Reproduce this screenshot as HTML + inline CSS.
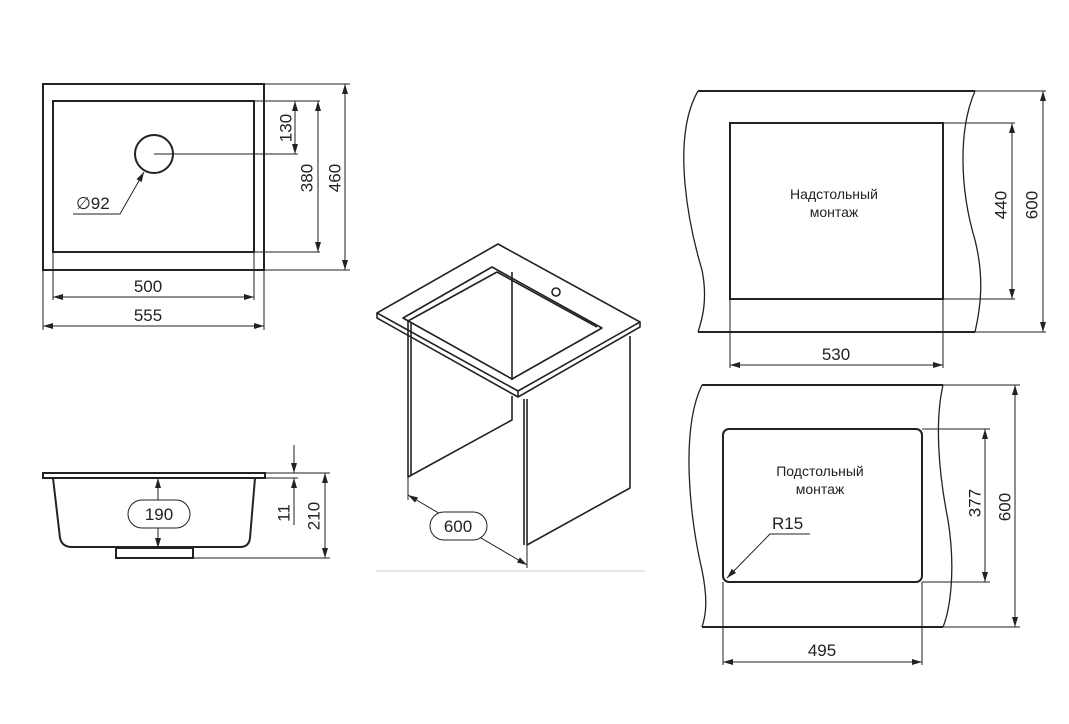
<!DOCTYPE html>
<html><head><meta charset="utf-8"><style>
html,body{margin:0;padding:0;background:#fff;}
svg{display:block;}
text{font-family:"Liberation Sans","DejaVu Sans",sans-serif;fill:#222;}
</style></head><body>
<svg width="1069" height="724" viewBox="0 0 1069 724" xmlns="http://www.w3.org/2000/svg">
<defs>
<marker id="a" viewBox="0 0 10 6" refX="10" refY="3" markerWidth="10" markerHeight="6" orient="auto-start-reverse" markerUnits="userSpaceOnUse">
<path d="M0,0 L10,3 L0,6 z" fill="#222"/></marker>
</defs>
<g stroke="#222" fill="none">
<!-- Top view -->
<rect x="43" y="84" width="221" height="186" stroke-width="2"/>
<rect x="53" y="101" width="201" height="151" stroke-width="2"/>
<circle cx="154" cy="154" r="19" stroke-width="2"/>
<g stroke-width="1">
<line x1="154" y1="154" x2="298" y2="154"/>
<line x1="254" y1="101" x2="320" y2="101"/>
<line x1="264" y1="84" x2="350" y2="84"/>
<line x1="254" y1="252" x2="320" y2="252"/>
<line x1="264" y1="270" x2="350" y2="270"/>
<line x1="295" y1="101" x2="295" y2="154" marker-start="url(#a)" marker-end="url(#a)"/>
<line x1="318" y1="101" x2="318" y2="252" marker-start="url(#a)" marker-end="url(#a)"/>
<line x1="345" y1="84" x2="345" y2="270" marker-start="url(#a)" marker-end="url(#a)"/>
<line x1="53" y1="252" x2="53" y2="300"/>
<line x1="254" y1="252" x2="254" y2="300"/>
<line x1="43" y1="270" x2="43" y2="330"/>
<line x1="264" y1="270" x2="264" y2="330"/>
<line x1="53" y1="297" x2="254" y2="297" marker-start="url(#a)" marker-end="url(#a)"/>
<line x1="43" y1="326" x2="264" y2="326" marker-start="url(#a)" marker-end="url(#a)"/>
<polyline points="73,214 120,214 144,172" marker-end="url(#a)"/>
</g>
<!-- Side view -->
<rect x="43" y="473" width="222" height="5" stroke-width="2"/>
<path d="M53,478 L60,538 Q62,547 72,547 L240,547 Q249,547 250,538 L255,478" stroke-width="2"/>
<rect x="116" y="548" width="77" height="10" stroke-width="2"/>
<g stroke-width="1">
<line x1="158" y1="478" x2="158" y2="548" marker-start="url(#a)" marker-end="url(#a)"/>
<line x1="265" y1="473" x2="330" y2="473"/>
<line x1="265" y1="478" x2="298" y2="478"/>
<line x1="193" y1="558" x2="330" y2="558"/>
<line x1="294" y1="445" x2="294" y2="473" marker-end="url(#a)"/>
<line x1="294" y1="525" x2="294" y2="478" marker-end="url(#a)"/>
<line x1="325" y1="473" x2="325" y2="558" marker-start="url(#a)" marker-end="url(#a)"/>
</g>
<rect x="128" y="500" width="62" height="28" rx="14" fill="#fff" stroke-width="1"/>
<!-- Iso view -->
<g stroke-width="1.6" stroke-linejoin="round">
<polygon points="498,244 640,322 518,391 377,313"/>
<polyline points="377,313 377,318 518,397 640,327 640,322"/>
<line x1="518" y1="391" x2="518" y2="397"/>
<polygon points="492,267 602,328 512,379 403,318"/>
<polyline points="408,321 497,272 597,327"/>
<line x1="512" y1="272" x2="512" y2="380"/>
<circle cx="556" cy="292" r="4"/>
<polyline points="408,321 408,477 512,420 512,396"/>
<line x1="411" y1="323" x2="411" y2="476"/>
<polyline points="527,399 527,545 630,488 630,336"/>
<line x1="524" y1="399" x2="524" y2="545"/>
</g>
<g stroke-width="1">
<line x1="408" y1="477" x2="408" y2="500"/>
<line x1="527" y1="545" x2="527" y2="568"/>
<line x1="408" y1="495" x2="527" y2="565" marker-start="url(#a)" marker-end="url(#a)"/>
<line x1="376" y1="571" x2="645" y2="571" stroke="#ccc"/>
</g>
<rect x="430" y="512" width="57" height="28" rx="14" fill="#fff" stroke-width="1"/>
<!-- Right top -->
<line x1="698" y1="91" x2="975" y2="91" stroke-width="2"/>
<line x1="698" y1="332" x2="975" y2="332" stroke-width="2"/>
<path d="M698,91 C670,140 690,230 702,270 C708,300 702,320 698,332" stroke-width="1.3"/>
<path d="M975,91 C958,130 960,190 975,240 C985,280 980,310 975,332" stroke-width="1.3"/>
<rect x="730" y="123" width="213" height="176" stroke-width="2"/>
<g stroke-width="1">
<line x1="943" y1="123" x2="1015" y2="123"/>
<line x1="943" y1="299" x2="1015" y2="299"/>
<line x1="975" y1="91" x2="1046" y2="91"/>
<line x1="975" y1="332" x2="1046" y2="332"/>
<line x1="1012" y1="123" x2="1012" y2="299" marker-start="url(#a)" marker-end="url(#a)"/>
<line x1="1043" y1="91" x2="1043" y2="332" marker-start="url(#a)" marker-end="url(#a)"/>
<line x1="730" y1="299" x2="730" y2="368"/>
<line x1="943" y1="299" x2="943" y2="368"/>
<line x1="730" y1="365" x2="943" y2="365" marker-start="url(#a)" marker-end="url(#a)"/>
</g>
<!-- Right bottom -->
<line x1="702" y1="385" x2="943" y2="385" stroke-width="2"/>
<line x1="702" y1="627" x2="943" y2="627" stroke-width="2"/>
<path d="M702,385 C680,430 690,520 702,570 C708,600 706,615 702,627" stroke-width="1.3"/>
<path d="M943,385 C935,420 938,470 948,520 C956,570 950,610 943,627" stroke-width="1.3"/>
<rect x="723" y="429" width="199" height="153" rx="6" stroke-width="2"/>
<g stroke-width="1">
<line x1="922" y1="429" x2="990" y2="429"/>
<line x1="922" y1="582" x2="990" y2="582"/>
<line x1="943" y1="385" x2="1020" y2="385"/>
<line x1="943" y1="627" x2="1020" y2="627"/>
<line x1="985" y1="429" x2="985" y2="582" marker-start="url(#a)" marker-end="url(#a)"/>
<line x1="1015" y1="385" x2="1015" y2="627" marker-start="url(#a)" marker-end="url(#a)"/>
<line x1="723" y1="582" x2="723" y2="665"/>
<line x1="922" y1="582" x2="922" y2="665"/>
<line x1="723" y1="662" x2="922" y2="662" marker-start="url(#a)" marker-end="url(#a)"/>
<polyline points="810,534 770,534 727,578" marker-end="url(#a)"/>
</g>
</g>
<g font-size="17">
<text x="287" y="128" text-anchor="middle" transform="rotate(-90 287 128)" dominant-baseline="middle">130</text>
<text x="308" y="178" text-anchor="middle" transform="rotate(-90 308 178)" dominant-baseline="middle">380</text>
<text x="336" y="178" text-anchor="middle" transform="rotate(-90 336 178)" dominant-baseline="middle">460</text>
<text x="148" y="292" text-anchor="middle">500</text>
<text x="148" y="321" text-anchor="middle">555</text>
<text x="76" y="209">∅92</text>
<text x="159" y="520" text-anchor="middle">190</text>
<text x="285" y="513" text-anchor="middle" transform="rotate(-90 285 513)" dominant-baseline="middle">11</text>
<text x="315" y="516" text-anchor="middle" transform="rotate(-90 315 516)" dominant-baseline="middle">210</text>
<text x="458" y="532" text-anchor="middle">600</text>
<text x="1002" y="205" text-anchor="middle" transform="rotate(-90 1002 205)" dominant-baseline="middle">440</text>
<text x="1033" y="205" text-anchor="middle" transform="rotate(-90 1033 205)" dominant-baseline="middle">600</text>
<text x="836" y="360" text-anchor="middle">530</text>
<text x="976" y="503" text-anchor="middle" transform="rotate(-90 976 503)" dominant-baseline="middle">377</text>
<text x="1006" y="507" text-anchor="middle" transform="rotate(-90 1006 507)" dominant-baseline="middle">600</text>
<text x="822" y="656" text-anchor="middle">495</text>
<text x="772" y="529">R15</text>
</g>
<g font-size="14" text-anchor="middle">
<text x="834" y="199">Надстольный</text>
<text x="834" y="217">монтаж</text>
<text x="820" y="476">Подстольный</text>
<text x="820" y="494">монтаж</text>
</g>
</svg>
</body></html>
